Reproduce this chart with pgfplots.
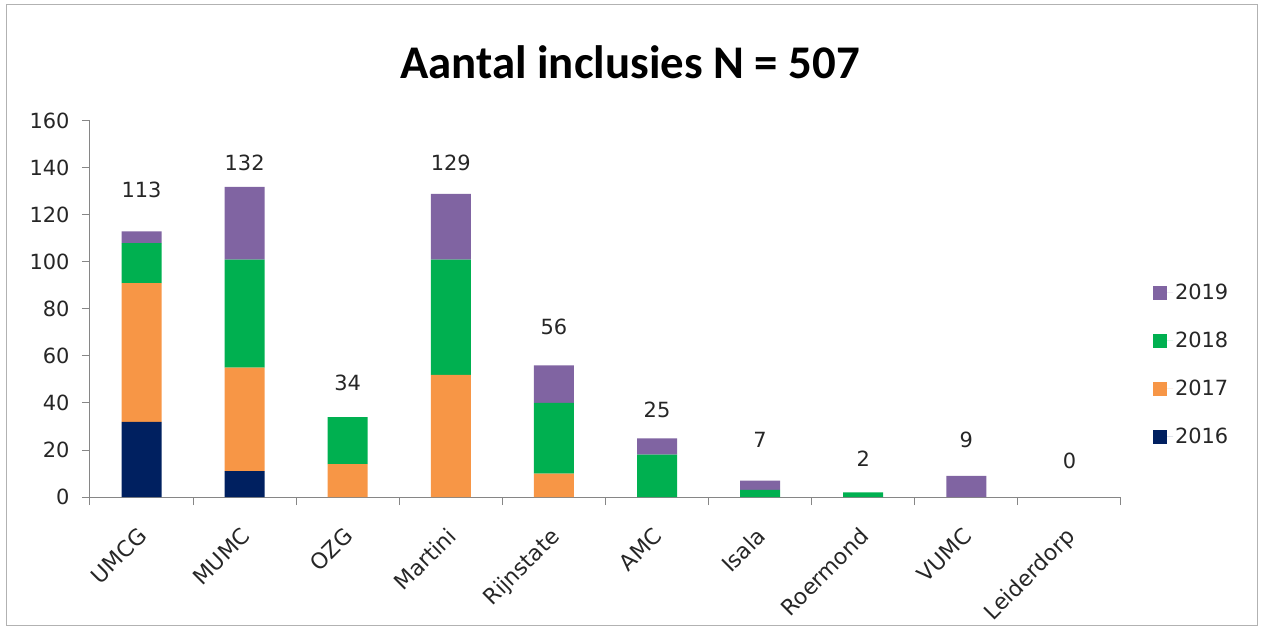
\documentclass[border=0pt]{standalone}
\usepackage{fontspec}
\setmainfont{DejaVu Sans}
\newfontfamily\titlefont{Carlito}
\usepackage{pgfplots}
\pgfplotsset{compat=1.18}
\definecolor{c2016}{HTML}{002060}
\definecolor{c2017}{HTML}{F79646}
\definecolor{c2018}{HTML}{00B050}
\definecolor{c2019}{HTML}{8064A2}
\definecolor{axgray}{HTML}{868686}
\tikzset{tot/.style={font=\fontsize{21}{25}\selectfont, text=black!85}}
\begin{document}
\begin{tikzpicture}
\useasboundingbox (-90bp,-133bp) rectangle (1171bp,497bp);
\draw[gray!60, line width=1bp] (-83bp,-128bp) rectangle (1167bp,492bp);
\begin{axis}[
scale only axis,
width=1031bp,
height=376bp,
ybar stacked,
bar width=40bp,
xmin=-0.5, xmax=9.5,
ymin=0, ymax=160,
ytick={0,20,...,160},
xtick={0,...,9},
xticklabels={UMCG,MUMC,OZG,Martini,Rijnstate,AMC,Isala,Roermond,VUMC,Leiderdorp},
minor xtick={-0.5,0.5,...,9.5},
axis x line*=bottom,
axis y line*=left,
axis line style={axgray, line width=1bp},
tick align=outside,
major x tick style={draw=none},
minor x tick style={axgray, line width=1bp},
major y tick style={axgray, line width=1bp},
major tick length=8bp,
minor tick length=8bp,
/pgf/number format/assume math mode=true,
tick label style={font=\fontsize{21}{25}\selectfont, text=black!85},
y tick label style={xshift=-9bp},
x tick label style={font=\fontsize{22}{26}\selectfont, rotate=45, anchor=north east, xshift=-15bp, yshift=-8bp},
reverse legend,
legend style={draw=none, at={(1.028,0.352)}, anchor=west, row sep=27bp,
  font=\fontsize{21}{25}\selectfont, text=black!85},
legend cell align=left,
legend image code/.code={\fill[#1] (0bp,-7bp) rectangle (14bp,7bp); \path (0bp,0bp) -- (20bp,0bp);},
]
\addplot[fill=c2016, draw=none] coordinates {(0,32) (1,11) (2,0) (3,0) (4,0) (5,0) (6,0) (7,0) (8,0) (9,0)};
\addplot[fill=c2017, draw=none] coordinates {(0,59) (1,44) (2,14) (3,52) (4,10) (5,0) (6,0) (7,0) (8,0) (9,0)};
\addplot[fill=c2018, draw=none] coordinates {(0,17) (1,46) (2,20) (3,49) (4,30) (5,18) (6,3) (7,2) (8,0) (9,0)};
\addplot[fill=c2019, draw=none] coordinates {(0,5) (1,31) (2,0) (3,28) (4,16) (5,7) (6,4) (7,0) (8,9) (9,0)};
\legend{2016,2017,2018,2019}
% totals, placed as the source chart places them
\node[tot] at (axis cs:0,130.6) {113};
\node[tot] at (axis cs:1,142) {132};
\node[tot] at (axis cs:2,48.5) {34};
\node[tot] at (axis cs:3,142) {129};
\node[tot] at (axis cs:4,72.3) {56};
\node[tot] at (axis cs:5,37) {25};
\node[tot] at (axis cs:6,24.3) {7};
\node[tot] at (axis cs:7,16.2) {2};
\node[tot] at (axis cs:8,24.3) {9};
\node[tot] at (axis cs:9,15.3) {0};
\end{axis}
\node[font=\titlefont\bfseries\fontsize{47}{50}\selectfont] at (540bp,435bp) {Aantal inclusies N = 507};
\end{tikzpicture}
\end{document}
